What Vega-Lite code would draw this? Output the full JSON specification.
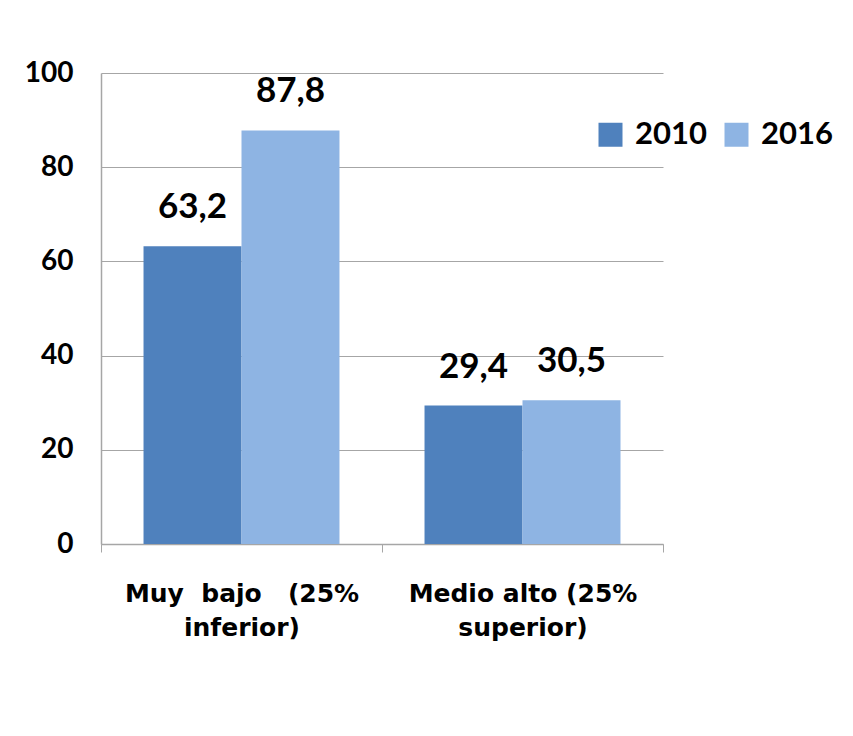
{
  "$schema": "https://vega.github.io/schema/vega-lite/v6.json",
  "width": 562,
  "height": 471,
  "autosize": {"type": "none"},
  "padding": {"left": 101, "top": 73, "right": 190, "bottom": 192},
  "background": "white",
  "config": {
    "view": {"stroke": null},
    "locale": {"number": {"decimal": ",", "thousands": ".", "grouping": [3], "currency": ["", " €"]}},
    "font": "Lato"
  },
  "data": {
    "values": [
      {"grupo": "Muy\u00a0\u00a0bajo\u00a0\u00a0\u00a0(25%\ninferior)", "anio": "2010", "valor": 63.2},
      {"grupo": "Muy\u00a0\u00a0bajo\u00a0\u00a0\u00a0(25%\ninferior)", "anio": "2016", "valor": 87.8},
      {"grupo": "Medio alto (25%\nsuperior)", "anio": "2010", "valor": 29.4},
      {"grupo": "Medio alto (25%\nsuperior)", "anio": "2016", "valor": 30.5}
    ]
  },
  "encoding": {
    "x": {
      "field": "grupo",
      "type": "nominal",
      "sort": null,
      "scale": {"paddingInner": 0, "paddingOuter": 0},
      "axis": {
        "title": null,
        "labelAngle": 0,
        "labelExpr": "split(datum.label, '\\n')",
        "labelFont": "DejaVu Sans",
        "labelFontSize": 25,
        "labelFontWeight": "bold",
        "labelColor": "black",
        "labelLineHeight": 34,
        "labelPadding": 29,
        "labelBaseline": "top",
        "labelLimit": 0,
        "labelOverlap": false,
        "labelBound": false,
        "tickBand": "extent",
        "tickSize": 8,
        "tickColor": "#A6A6A6",
        "domainColor": "#A6A6A6",
        "domainWidth": 1.5,
        "grid": false
      }
    },
    "xOffset": {
      "field": "anio",
      "type": "nominal",
      "scale": {"paddingInner": 0, "paddingOuter": 0.434}
    },
    "y": {
      "field": "valor",
      "type": "quantitative",
      "scale": {"domain": [0, 100], "nice": false},
      "axis": {
        "title": null,
        "values": [0, 20, 40, 60, 80, 100],
        "labelFont": "Lato",
        "labelFontSize": 28,
        "labelFontWeight": "bold",
        "labelColor": "black",
        "labelPadding": 28,
        "ticks": false,
        "domainColor": "#A6A6A6",
        "domainWidth": 1.5,
        "gridColor": "#A6A6A6",
        "gridWidth": 1
      }
    }
  },
  "layer": [
    {
      "mark": {"type": "bar"},
      "encoding": {
        "color": {
          "field": "anio",
          "type": "nominal",
          "scale": {"domain": ["2010", "2016"], "range": ["#4F81BD", "#8EB4E3"]},
          "legend": {
            "title": null,
            "orient": "none",
            "direction": "horizontal",
            "legendX": 494,
            "legendY": 46,
            "symbolType": "square",
            "symbolSize": 576,
            "symbolStrokeWidth": 0,
            "labelFont": "Lato",
            "labelFontSize": 31,
            "labelFontWeight": "bold",
            "labelColor": "black",
            "labelOffset": 9,
            "columnPadding": 14
          }
        }
      }
    },
    {
      "mark": {"type": "text", "baseline": "alphabetic", "dy": -28, "fontSize": 35, "fontWeight": "bold", "font": "Lato", "color": "black"},
      "encoding": {
        "text": {"field": "valor", "type": "quantitative", "format": ".1f"}
      }
    }
  ]
}
